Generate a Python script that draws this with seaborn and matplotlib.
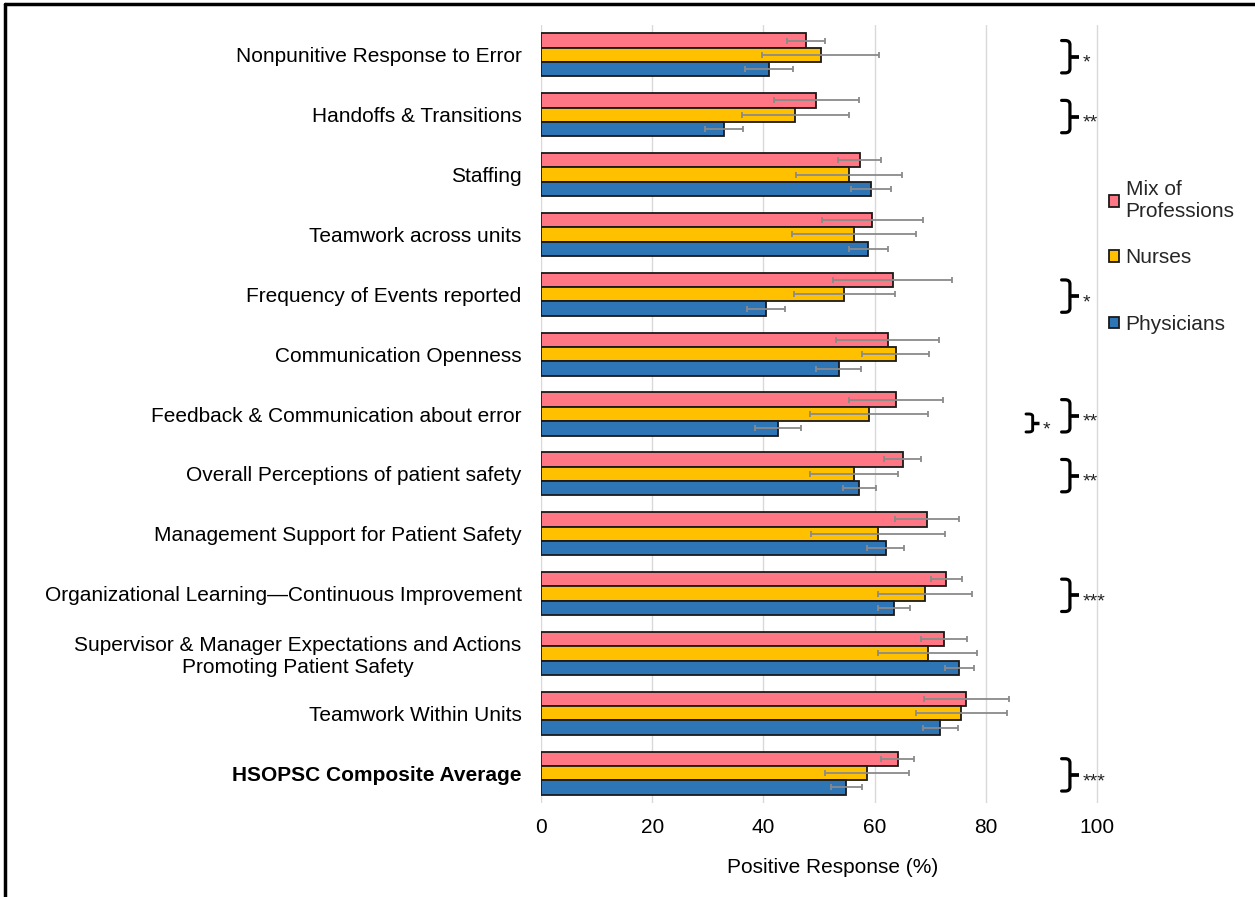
import matplotlib
matplotlib.use("Agg")
import matplotlib.pyplot as plt
from matplotlib.path import Path
from matplotlib.patches import PathPatch
from matplotlib.lines import Line2D
import seaborn as sns
import pandas as pd

categories = [
    "Nonpunitive Response to Error",
    "Handoffs & Transitions",
    "Staffing",
    "Teamwork across units",
    "Frequency of Events reported",
    "Communication Openness",
    "Feedback & Communication about error",
    "Overall Perceptions of patient safety",
    "Management Support for Patient Safety",
    "Organizational Learning\u2014Continuous Improvement",
    "Supervisor & Manager Expectations and Actions\nPromoting Patient Safety",
    "Teamwork Within Units",
    "HSOPSC Composite Average",
]
groups = ["Mix of Professions", "Nurses", "Physicians"]
legend_labels = ["Mix of\nProfessions", "Nurses", "Physicians"]

mix = [47.7, 49.5, 57.3, 59.6, 63.2, 62.3, 63.8, 65.0, 69.4, 72.9, 72.4, 76.5, 64.1]
mix_err = [3.4, 7.6, 3.9, 9.1, 10.7, 9.2, 8.5, 3.25, 5.8, 2.75, 4.15, 7.65, 3.05]
nurses = [50.3, 45.7, 55.4, 56.3, 54.5, 63.8, 58.9, 56.3, 60.6, 69.0, 69.5, 75.6, 58.7]
nurses_err = [10.5, 9.6, 9.5, 11.2, 9.1, 6.0, 10.6, 7.95, 12.0, 8.45, 8.95, 8.1, 7.55]
phys = [41.0, 32.9, 59.3, 58.8, 40.5, 53.5, 42.6, 57.2, 62.0, 63.5, 75.2, 71.8, 54.9]
phys_err = [4.3, 3.5, 3.55, 3.5, 3.45, 4.1, 4.15, 2.95, 3.3, 2.85, 2.6, 3.1, 2.75]

# significance: Mix of Professions vs Physicians, Nurses vs Physicians
sig_mix_phys = ["*", "**", "", "", "*", "", "**", "**", "", "***", "", "", "***"]
sig_nurse_phys = ["", "", "", "", "", "", "*", "", "", "", "", "", ""]

colors = ["#FF7784", "#FFC000", "#2E75B6"]
xticks = [0, 20, 40, 60, 80, 100]

values = [mix, nurses, phys]
errors = [mix_err, nurses_err, phys_err]

rows = []
for g, vals in zip(groups, values):
    for c, v in zip(categories, vals):
        rows.append({"category": c, "group": g, "value": v})
df = pd.DataFrame(rows)

sns.set_theme(style="white")
plt.rcParams["font.family"] = ["Liberation Sans", "DejaVu Sans"]

FS = 15

fig = plt.figure(figsize=(12.55, 8.97), dpi=100)
ax = fig.add_axes([541 / 1255, 1 - 803 / 897, (1125 - 541) / 1255, (803 - 25) / 897])

sns.barplot(data=df, y="category", x="value", hue="group", order=categories,
            hue_order=groups, palette=colors, saturation=1, orient="h", width=0.72,
            edgecolor="#1a1a1a", linewidth=1.3, errorbar=None, ax=ax, zorder=3)

# error bars from the bars drawn by seaborn
for cont, errs in zip(ax.containers, errors):
    ys = [b.get_y() + b.get_height() / 2 for b in cont]
    xs = [b.get_width() for b in cont]
    ax.errorbar(xs, ys, xerr=errs, fmt="none", ecolor="#8a8a8a",
                elinewidth=1.3, capsize=2.5, capthick=1.3, zorder=4)

ax.set_xlim(0, 105)
ax.set_ylim(len(categories) - 0.5, -0.5)
ax.set_xticks(xticks)
ax.set_xticklabels([str(t) for t in xticks])
ax.grid(axis="x", color="#d9d9d9", linewidth=1.0, zorder=0)
ax.grid(axis="y", visible=False)
for s in ax.spines.values():
    s.set_visible(False)
ax.tick_params(axis="y", length=0, pad=14, labelsize=FS, colors="black")
ax.tick_params(axis="x", length=0, pad=11, labelsize=FS, colors="black")
ax.set_ylabel("")
ax.set_xlabel("Positive Response (%)", fontsize=FS, labelpad=15, color="black")

for lab in ax.get_yticklabels():
    lab.set_multialignment("center")
ax.get_yticklabels()[-1].set_fontweight("bold")


def bracket(ax, yc, half, x0, x1, x2, xt, label, lw=2.3):
    rx = (x1 - x0) * 0.55
    ry = half * 0.25
    top, bot = yc - half, yc + half
    verts = [(x0, top), (x1 - rx, top), (x1, top), (x1, top + ry),
             (x1, bot - ry), (x1, bot), (x1 - rx, bot), (x0, bot)]
    codes = [Path.MOVETO, Path.LINETO, Path.CURVE3, Path.CURVE3,
             Path.LINETO, Path.CURVE3, Path.CURVE3, Path.LINETO]
    ax.add_patch(PathPatch(Path(verts, codes), fill=False, edgecolor="black",
                           linewidth=lw, capstyle="round", joinstyle="round",
                           clip_on=False, zorder=5))
    ax.plot([x1, x2], [yc, yc], color="black", linewidth=lw + 0.4,
            solid_capstyle="butt", clip_on=False, zorder=5)
    ax.annotate(label, xy=(xt, yc), xytext=(0, -8), textcoords="offset points",
                ha="left", va="baseline", fontsize=14, color="#222222",
                annotation_clip=False)


for i, s in enumerate(sig_mix_phys):
    if s:
        bracket(ax, i + 0.03, 0.27, 93.6, 95.1, 96.7, 97.4, s)
for i, s in enumerate(sig_nurse_phys):
    if s:
        bracket(ax, i + 0.15, 0.15, 87.2, 88.4, 89.6, 90.2, s, lw=2.1)

# legend (two blocks to mimic the uneven spacing of the original)
handles, _ = ax.get_legend_handles_labels()
common = dict(loc="upper left", bbox_transform=fig.transFigure, frameon=False,
              fontsize=FS, handlelength=0.5, handleheight=0.5, handletextpad=0.3,
              borderpad=0, borderaxespad=0)
leg1 = ax.legend(handles[:1], legend_labels[:1],
                 bbox_to_anchor=(1109 / 1255, 1 - 180 / 897), **common)
ax.add_artist(leg1)
ax.legend(handles[1:], legend_labels[1:], labelspacing=2.3,
          bbox_to_anchor=(1109 / 1255, 1 - 248 / 897), **common)

# figure frame (left and top)
fig.add_artist(Line2D([5 / 1255, 5 / 1255], [0, 1 - 4 / 897], transform=fig.transFigure,
                      color="black", linewidth=2.5))
fig.add_artist(Line2D([5 / 1255, 1], [1 - 4 / 897, 1 - 4 / 897], transform=fig.transFigure,
                      color="black", linewidth=2.5))

fig.savefig("out.png", dpi=100, facecolor="white")
